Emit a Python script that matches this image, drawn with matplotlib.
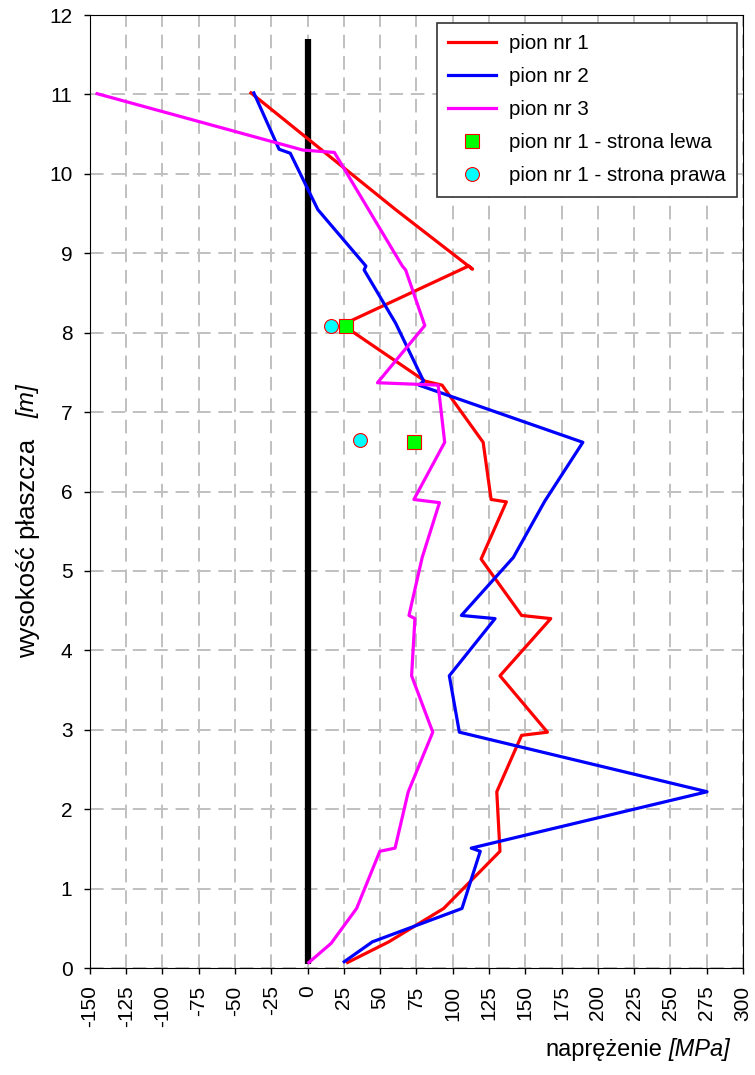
import matplotlib.pyplot as plt

plt.rcParams['font.family'] = ['Liberation Sans', 'DejaVu Sans']

# pion nr 1
x1 = [-39, 60.7, 113.7, 111, 24, 81, 92.7, 121, 126.5, 137, 119.6, 147.5, 167.6,
      132.6, 165.3, 147.5, 130.4, 132.6, 93.8, 56, 27.6]
y1 = [11.02, 9.55, 8.80, 8.84, 8.10, 7.39, 7.34, 6.62, 5.90, 5.87, 5.15, 4.44, 4.40,
      3.68, 2.97, 2.93, 2.22, 1.47, 0.75, 0.33, 0.07]

# pion nr 2
x2 = [-37, -19.6, -11.9, 7.1, 40.2, 39, 60.7, 80, 76.7, 189.7, 163.5, 141.8, 106,
      129.2, 97.7, 104.6, 275.3, 112.8, 119, 106.4, 44.7, 25.3]
y2 = [11.02, 10.31, 10.26, 9.55, 8.84, 8.79, 8.12, 7.39, 7.34, 6.62, 5.88, 5.17, 4.44,
      4.40, 3.68, 2.97, 2.22, 1.51, 1.47, 0.75, 0.33, 0.08]

# pion nr 3
x3 = [-145, -3.2, 18.5, 65.3, 67.6, 80.8, 48.2, 90, 94.5, 73.3, 90.9, 79, 69.9, 74,
      71.7, 86.3, 69.4, 60.3, 49.8, 33.8, 16.2, 0.9]
y3 = [11.01, 10.30, 10.27, 8.84, 8.79, 8.09, 7.37, 7.34, 6.62, 5.90, 5.86, 5.17, 4.44,
      4.40, 3.68, 2.97, 2.22, 1.51, 1.47, 0.75, 0.31, 0.07]

# pion nr 1 - strona lewa / prawa
xl = [26.7, 73.3]
yl = [8.09, 6.63]
xp = [16.4, 36.3]
yp = [8.09, 6.65]

# oś zero
x0 = [0, 0]
y0 = [0.05, 11.7]

xticks = list(range(-150, 301, 25))
yticks = list(range(0, 13))

fig = plt.figure(figsize=(7.55, 10.75), dpi=100)
ax = fig.add_axes([0.119, 0.0995, 0.865, 0.8865])

ax.plot(x0, y0, color='black', lw=4.5, solid_capstyle='butt', zorder=2)
ax.plot(x1, y1, color='#ff0000', lw=2.3, label='pion nr 1', zorder=3)
ax.plot(x2, y2, color='#0000ff', lw=2.3, label='pion nr 2', zorder=3)
ax.plot(x3, y3, color='#ff00ff', lw=2.3, label='pion nr 3', zorder=3)
ax.plot(xl, yl, 's', ms=9.5, mfc='#00ff00', mec='#ff0000', mew=0.8, ls='none',
        label='pion nr 1 - strona lewa', zorder=4)
ax.plot(xp, yp, 'o', ms=10, mfc='#00ffff', mec='#ff0000', mew=0.8, ls='none',
        label='pion nr 1 - strona prawa', zorder=4)

ax.set_xlim(-150, 300)
ax.set_ylim(0, 12)
ax.set_xticks(xticks)
ax.set_yticks(yticks)
ax.set_xticklabels([str(t) for t in xticks], rotation=90, fontsize=15)
ax.set_yticklabels([str(t) for t in yticks], fontsize=15)
ax.tick_params(direction='out', length=4.5, width=1, pad=8)
ax.grid(True, color='#c0c0c0', lw=1.4, ls=(0, (7, 4)))
ax.set_axisbelow(True)

leg = ax.legend(loc='upper right', fontsize=14.8, frameon=True, fancybox=False,
                edgecolor='#333333', framealpha=1, handlelength=2.3,
                handletextpad=0.65, borderpad=0.55, labelspacing=0.68,
                borderaxespad=0, bbox_to_anchor=(0.991, 0.9916))
leg.get_frame().set_linewidth(1.2)

# etykieta osi Y: tekst + kursywa [m]
fig.text(0.037, 0.490, 'wysokość płaszcza', rotation=90, fontsize=18.5,
         ha='center', va='center')
fig.text(0.037, 0.627, '[m]', rotation=90, fontsize=17.5, style='italic',
         ha='center', va='center')
# etykieta osi X
fig.text(0.877, 0.0233, 'naprężenie', fontsize=17, ha='right', va='center')
fig.text(0.8854, 0.0233, '[MPa]', fontsize=17, style='italic', ha='left', va='center')

fig.savefig('out.png', dpi=100)
